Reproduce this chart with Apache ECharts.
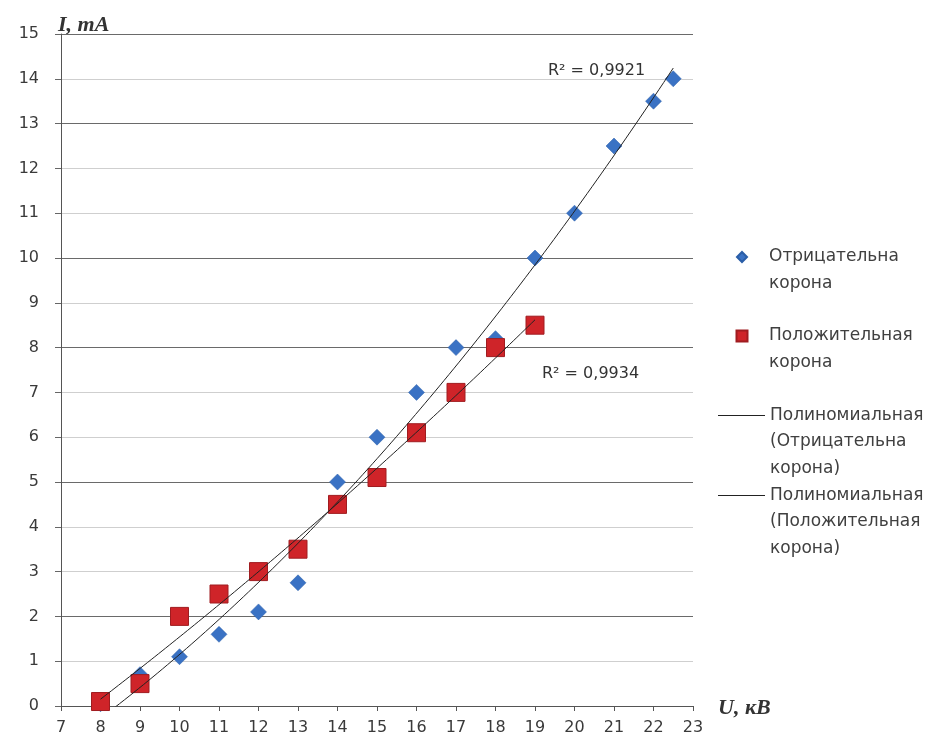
<!DOCTYPE html>
<html><head><meta charset="utf-8">
<script src="https://cdn.jsdelivr.net/npm/echarts@6/dist/echarts.min.js"></script>
<style>html,body{margin:0;padding:0;background:#fff}#c{width:934px;height:745px}</style>
</head><body><div id="c"></div>
<script>
// ---- data ----
const negU = [8, 9, 10, 11, 12, 13, 14, 15, 16, 17, 18, 19, 20, 21, 22, 22.5];
const negI = [0.05, 0.7, 1.1, 1.6, 2.1, 2.75, 5.0, 6.0, 7.0, 8.0, 8.2, 10.0, 11.0, 12.5, 13.5, 14.0];
const posU = [8, 9, 10, 11, 12, 13, 14, 15, 16, 17, 18, 19];
const posI = [0.1, 0.5, 2.0, 2.5, 3.0, 3.5, 4.5, 5.1, 6.1, 7.0, 8.0, 8.5];
const seriesNames = ['Отрицательна корона', 'Положительная корона',
  'Полиномиальная (Отрицательна корона)', 'Полиномиальная (Положительная корона)'];
const legendTexts = ['Отрицательна\nкорона', 'Положительная\nкорона',
  'Полиномиальная\n(Отрицательна\nкорона)', 'Полиномиальная\n(Положительная\nкорона)'];
const r2Texts = ['R² = 0,9921', 'R² = 0,9934'];
const xAxisName = 'U, кВ';
const yAxisName = 'I, mA';

// ---- quadratic least-squares trendline (Excel "Полиномиальная", degree 2) ----
function polyfit2(xs, ys) {
  let S = [0,0,0,0,0], T = [0,0,0];
  for (let i = 0; i < xs.length; i++) {
    let p = 1;
    for (let k = 0; k < 5; k++) { S[k] += p; if (k < 3) T[k] += p * ys[i]; p *= xs[i]; }
  }
  const A = [[S[0],S[1],S[2],T[0]],[S[1],S[2],S[3],T[1]],[S[2],S[3],S[4],T[2]]];
  for (let c = 0; c < 3; c++) {
    let piv = c;
    for (let r = c+1; r < 3; r++) if (Math.abs(A[r][c]) > Math.abs(A[piv][c])) piv = r;
    [A[c], A[piv]] = [A[piv], A[c]];
    for (let r = 0; r < 3; r++) if (r !== c) {
      const f = A[r][c] / A[c][c];
      for (let k = c; k < 4; k++) A[r][k] -= f * A[c][k];
    }
  }
  return [A[0][3]/A[0][0], A[1][3]/A[1][1], A[2][3]/A[2][2]];
}
function trend(xs, ys) {
  const c = polyfit2(xs, ys);
  const lo = Math.min(...xs), hi = Math.max(...xs), pts = [];
  const n = 120;
  for (let i = 0; i <= n; i++) {
    const x = lo + (hi - lo) * i / n;
    pts.push([x, c[0] + c[1]*x + c[2]*x*x]);
  }
  return pts;
}

const chart = echarts.init(document.getElementById('c'), null, {renderer: 'canvas'});
const FONT = 'DejaVu Sans';
const tickText = {color: '#3a3a3a', fontSize: 16, fontFamily: FONT};
const gridColors = ['#555','#cfcfcf','#6a6a6a','#cfcfcf','#cfcfcf','#6a6a6a','#cfcfcf','#cfcfcf',
  '#6a6a6a','#cfcfcf','#6a6a6a','#cfcfcf','#cfcfcf','#6a6a6a','#cfcfcf','#6a6a6a'];

// legend icons: marker drawn centred in a wider box (corner points fix the box)
const ICON_DIAMOND = 'path://M0,0L0.01,0ZM44,11L43.99,11ZM22,0.5L27,5.5L22,10.5L17,5.5Z';
const ICON_SQUARE = 'path://M0,0L0.01,0ZM44,11L43.99,11ZM16.5,0H27.5V11H16.5Z';
const ICON_LINE = 'path://M0,0H47V1H0Z';

const LH = 26.5;
function legendFor(i, icon, left, iconCenterY, w, h) {
  const lines = legendTexts[i].split('\n').length;
  const text = '\n'.repeat(lines - 1) + legendTexts[i];
  return {
    data: [{name: seriesNames[i], icon: icon}], left: left,
    top: iconCenterY - (2 * lines - 1) * LH / 2,
    orient: 'vertical', padding: 0,
    itemWidth: w, itemHeight: h, selectedMode: false,
    formatter: () => text,
    textStyle: {color: '#404040', fontSize: 17, fontFamily: FONT, lineHeight: LH}
  };
}

chart.setOption({
  animation: false,
  backgroundColor: '#fff',
  grid: {left: 61, right: 241, top: 34, bottom: 39, containLabel: false},
  xAxis: {
    type: 'value', min: 7, max: 23, interval: 1,
    axisLine: {lineStyle: {color: '#555', width: 1}},
    axisTick: {show: true, length: 5, lineStyle: {color: '#555'}},
    axisLabel: Object.assign({margin: 14}, tickText),
    splitLine: {show: false}
  },
  yAxis: {
    type: 'value', min: 0, max: 15, interval: 1,
    axisLine: {show: true, lineStyle: {color: '#555', width: 1}},
    axisTick: {show: true, length: 6, lineStyle: {color: '#666'}},
    axisLabel: Object.assign({margin: 22}, tickText),
    splitLine: {show: true, lineStyle: {color: gridColors, width: 1}}
  },
  legend: [
    legendFor(0, ICON_DIAMOND, 719, 257, 44, 11),
    legendFor(1, ICON_SQUARE, 719, 336, 44, 11),
    legendFor(2, ICON_LINE, 718, 415.5, 47, 1),
    legendFor(3, ICON_LINE, 718, 495.5, 47, 1)
  ],
  graphic: [
    {type: 'text', left: 58, top: 14, style: {text: yAxisName, font: 'italic bold 22px "Liberation Serif"', fill: '#333'}},
    {type: 'text', left: 718, top: 697, style: {text: xAxisName, font: 'italic bold 22px "Liberation Serif"', fill: '#333'}},
    {type: 'text', left: 548, top: 63, style: {text: r2Texts[0], font: '16px "DejaVu Sans"', fill: '#333'}},
    {type: 'text', left: 542, top: 366, style: {text: r2Texts[1], font: '16px "DejaVu Sans"', fill: '#333'}}
  ],
  series: [
    {name: seriesNames[0], type: 'scatter', symbol: 'diamond', symbolSize: 16,
      itemStyle: {color: '#3a72c4', borderColor: '#2a5ea8', borderWidth: 0.5, opacity: 1},
      data: negU.map((u, i) => [u, negI[i]]), z: 2},
    {name: seriesNames[1], type: 'scatter', symbol: 'rect', symbolSize: 18,
      itemStyle: {color: '#cf2429', borderColor: '#a01c20', borderWidth: 1, opacity: 1},
      data: posU.map((u, i) => [u, posI[i]]), z: 3},
    {name: seriesNames[2], type: 'line', symbol: 'none', smooth: false, clip: true,
      itemStyle: {color: '#222'}, lineStyle: {color: '#222', width: 1}, data: trend(negU, negI), z: 4},
    {name: seriesNames[3], type: 'line', symbol: 'none', smooth: false, clip: true,
      itemStyle: {color: '#222'}, lineStyle: {color: '#222', width: 1}, data: trend(posU, posI), z: 4}
  ]
});
</script></body></html>
